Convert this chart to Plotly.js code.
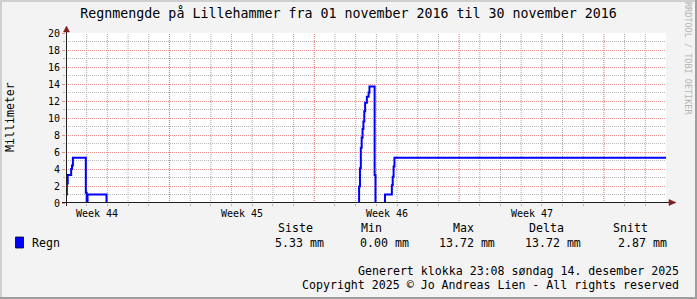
<!DOCTYPE html>
<html>
<head>
<meta charset="utf-8">
<script src="https://cdn.plot.ly/plotly-3.0.1.min.js"></script>
<style>
  html, body { margin: 0; padding: 0; background: #f3f3f3; }
  #chart { width: 697px; height: 299px; }
</style>
</head>
<body>
<div id="chart"></div>
<script>
// ---- data ----
const times = [
  '2016-11-01 00:00', '2016-11-01 01:00', '2016-11-01 02:00', '2016-11-01 06:00',
  '2016-11-01 07:00', '2016-11-01 08:00', '2016-11-01 23:00', '2016-11-02 00:00',
  '2016-11-02 01:00', '2016-11-02 23:00',
  '2016-11-15 04:00', '2016-11-15 05:00', '2016-11-15 06:00', '2016-11-15 07:00',
  '2016-11-15 08:00', '2016-11-15 09:00', '2016-11-15 10:00', '2016-11-15 11:00',
  '2016-11-15 13:00', '2016-11-15 15:00', '2016-11-15 16:00', '2016-11-15 22:00',
  '2016-11-15 23:00',
  '2016-11-16 10:00', '2016-11-16 18:00', '2016-11-16 19:00', '2016-11-16 20:00',
  '2016-11-16 21:00', '2016-11-30 00:00'
];
const rain = [
  1.0, 2.3, 3.3, 4.0,
  4.4, 5.33, 1.2, 0,
  1.0, 0,
  1.95, 4.1, 6.5, 7.7,
  8.7, 9.6, 10.8, 11.8,
  12.5, 13.0, 13.72, 3.3,
  0,
  1.0, 2.1, 3.1, 4.3,
  5.33, 5.33
];
const xRange = ['2016-11-01 00:00', '2016-11-30 00:00'];
const dayTicks = [
  '2016-11-02', '2016-11-03', '2016-11-04', '2016-11-05', '2016-11-07', '2016-11-08',
  '2016-11-09', '2016-11-10', '2016-11-11', '2016-11-12', '2016-11-14', '2016-11-15',
  '2016-11-16', '2016-11-17', '2016-11-18', '2016-11-19', '2016-11-21', '2016-11-22',
  '2016-11-23', '2016-11-24', '2016-11-25', '2016-11-26', '2016-11-28', '2016-11-29'
];
const weekStarts = ['2016-11-06', '2016-11-13', '2016-11-20', '2016-11-27'];
const weekLabelDates = ['2016-11-02 12:00', '2016-11-09 12:00', '2016-11-16 12:00', '2016-11-23 12:00'];
const weekLabels = ['Week 44', 'Week 45', 'Week 46', 'Week 47'];
const seriesName = 'Regn';
const statHeaders = ['Siste', 'Min', 'Max', 'Delta', 'Snitt'];
const statValues = ['5.33 mm', '0.00 mm', '13.72 mm', '13.72 mm', '2.87 mm'];
const titleText = 'Regnmengde på Lillehammer fra 01 november 2016 til 30 november 2016';
const yTitle = 'Millimeter';
const footer1 = 'Generert klokka 23:08 søndag 14. desember 2025';
const footer2 = 'Copyright 2025 © Jo Andreas Lien - All rights reserved';
const watermark = 'RRDTOOL / TOBI OETIKER';

// ---- layout helpers (pixel -> paper) ----
const L = 66, T = 33, W = 600, H = 170, CW = 697, CH = 299;
const px = v => (v - L) / W;
const py = v => (T + H - v) / H;
const MONO = 'DejaVu Sans Mono';
const gridGray = '#b8b8b8';
const gridRed = '#e49494';
const arrowCol = '#801f1f';
const axisCol = '#1f1f1f';

const trace = {
  type: 'scatter', mode: 'lines', x: times, y: rain, name: seriesName,
  line: { color: '#0000ff', width: 2, shape: 'hv' }, hoverinfo: 'skip', showlegend: false
};

const shapes = [];
// daily minor grid (gray dotted)
dayTicks.forEach(d => shapes.push({
  type: 'line', xref: 'x', yref: 'paper', x0: d, x1: d, y0: 0, y1: 1, layer: 'below',
  line: { color: 'rgba(110,110,110,0.6)', width: 1, dash: '1px,1px' }
}));
// weekly major grid (red dotted)
weekStarts.forEach(d => shapes.push({
  type: 'line', xref: 'x', yref: 'paper', x0: d, x1: d, y0: 0, y1: 1, layer: 'below',
  line: { color: 'rgba(222,60,60,0.8)', width: 1, dash: '1px,1px' }
}));
// axes with arrows
shapes.push({ type: 'line', xref: 'paper', yref: 'paper', x0: px(62), x1: px(670), y0: py(202.5), y1: py(202.5),
  line: { color: axisCol, width: 1 }, layer: 'above' });
shapes.push({ type: 'line', xref: 'paper', yref: 'paper', x0: px(66.5), x1: px(66.5), y0: py(206), y1: py(30),
  line: { color: axisCol, width: 1 }, layer: 'above' });
shapes.push({ type: 'path', xref: 'paper', yref: 'paper', layer: 'above',
  path: `M${px(669)},${py(199.5)} L${px(676)},${py(202.5)} L${px(669)},${py(205.5)} Z`,
  fillcolor: arrowCol, line: { color: arrowCol, width: 0.5 } });
shapes.push({ type: 'path', xref: 'paper', yref: 'paper', layer: 'above',
  path: `M${px(63.5)},${py(32)} L${px(66.5)},${py(26)} L${px(69.5)},${py(32)} Z`,
  fillcolor: arrowCol, line: { color: arrowCol, width: 0.5 } });
// legend colour box
shapes.push({ type: 'rect', xref: 'paper', yref: 'paper', layer: 'above',
  x0: px(15.5), x1: px(23.5), y0: py(248), y1: py(237),
  fillcolor: '#0000ff', line: { color: '#000000', width: 0.8 } });
// frame shading
shapes.push({ type: 'rect', xref: 'paper', yref: 'paper', layer: 'above',
  x0: px(0), x1: px(CW), y0: py(CH), y1: py(CH - 2), fillcolor: '#9e9e9e', line: { width: 0 } });
shapes.push({ type: 'rect', xref: 'paper', yref: 'paper', layer: 'above',
  x0: px(CW - 2), x1: px(CW), y0: py(CH), y1: py(0), fillcolor: '#9e9e9e', line: { width: 0 } });
shapes.push({ type: 'rect', xref: 'paper', yref: 'paper', layer: 'above',
  x0: px(0), x1: px(CW - 2), y0: py(2), y1: py(0), fillcolor: '#cfcfcf', line: { width: 0 } });
shapes.push({ type: 'rect', xref: 'paper', yref: 'paper', layer: 'above',
  x0: px(0), x1: px(2), y0: py(CH - 2), y1: py(0), fillcolor: '#cfcfcf', line: { width: 0 } });

const annotations = [];
weekLabels.forEach((t, i) => annotations.push({
  xref: 'x', yref: 'paper', x: weekLabelDates[i], y: py(213), text: t, showarrow: false,
  xanchor: 'center', yanchor: 'middle', font: { family: MONO, size: 10, color: '#000' }
}));
const headerX = [276, 359, 451, 527, 611];
const valueRightX = [326, 411, 497, 583, 669];
statHeaders.forEach((t, i) => annotations.push({
  xref: 'paper', yref: 'paper', x: px(headerX[i]), y: py(228), text: t, showarrow: false,
  xanchor: 'left', yanchor: 'middle', font: { family: MONO, size: 11.6, color: '#000' }
}));
statValues.forEach((t, i) => annotations.push({
  xref: 'paper', yref: 'paper', x: px(valueRightX[i]), y: py(243), text: t, showarrow: false,
  xanchor: 'right', yanchor: 'middle', font: { family: MONO, size: 11.6, color: '#000' }
}));
annotations.push({ xref: 'paper', yref: 'paper', x: px(30), y: py(243), text: seriesName, showarrow: false,
  xanchor: 'left', yanchor: 'middle', font: { family: MONO, size: 11.6, color: '#000' } });
annotations.push({ xref: 'paper', yref: 'paper', x: px(681), y: py(271), text: footer1, showarrow: false,
  xanchor: 'right', yanchor: 'middle', font: { family: MONO, size: 11.6, color: '#000' } });
annotations.push({ xref: 'paper', yref: 'paper', x: px(681), y: py(285), text: footer2, showarrow: false,
  xanchor: 'right', yanchor: 'middle', font: { family: MONO, size: 11.6, color: '#000' } });
annotations.push({ xref: 'paper', yref: 'paper', x: px(10), y: py(117), text: yTitle, showarrow: false,
  textangle: -90, xanchor: 'center', yanchor: 'middle', font: { family: MONO, size: 11.6, color: '#000' } });
annotations.push({ xref: 'paper', yref: 'paper', x: px(688), y: py(58), text: watermark, showarrow: false,
  textangle: 90, xanchor: 'center', yanchor: 'middle', font: { family: MONO, size: 8.5, color: '#b4b4b4' } });

const layout = {
  width: CW, height: CH,
  margin: { l: L, r: CW - L - W, t: T, b: CH - T - H, pad: 0 },
  paper_bgcolor: '#f3f3f3', plot_bgcolor: '#ffffff',
  showlegend: false,
  title: { text: titleText, xref: 'container', yref: 'container', x: 0.5, y: 1 - 13 / CH,
    xanchor: 'center', yanchor: 'middle', font: { family: MONO, size: 13.3, color: '#000' } },
  xaxis: {
    type: 'date', range: xRange, zeroline: false, showline: false,
    tickmode: 'array', tickvals: dayTicks, ticktext: dayTicks.map(() => ' '),
    showgrid: false, ticks: 'outside', ticklen: 2, tickcolor: gridGray,
    tickfont: { family: MONO, size: 1, color: 'rgba(0,0,0,0)' }
  },
  yaxis: {
    range: [0, 20], tickmode: 'linear', tick0: 0, dtick: 2, showgrid: true,
    gridcolor: gridRed, griddash: '1px,1px', gridwidth: 1, zeroline: false, showline: false,
    ticks: 'outside', ticklen: 3, tickcolor: gridRed,
    tickfont: { family: MONO, size: 10, color: '#000' },
    minor: { tickmode: 'linear', tick0: 0, dtick: 1, showgrid: true, gridcolor: gridGray,
      griddash: '1px,1px', gridwidth: 1, ticks: 'outside', ticklen: 2, tickcolor: gridGray }
  },
  shapes: shapes,
  annotations: annotations
};

Plotly.newPlot('chart', [trace], layout, { staticPlot: true, displayModeBar: false });
</script>
</body>
</html>
